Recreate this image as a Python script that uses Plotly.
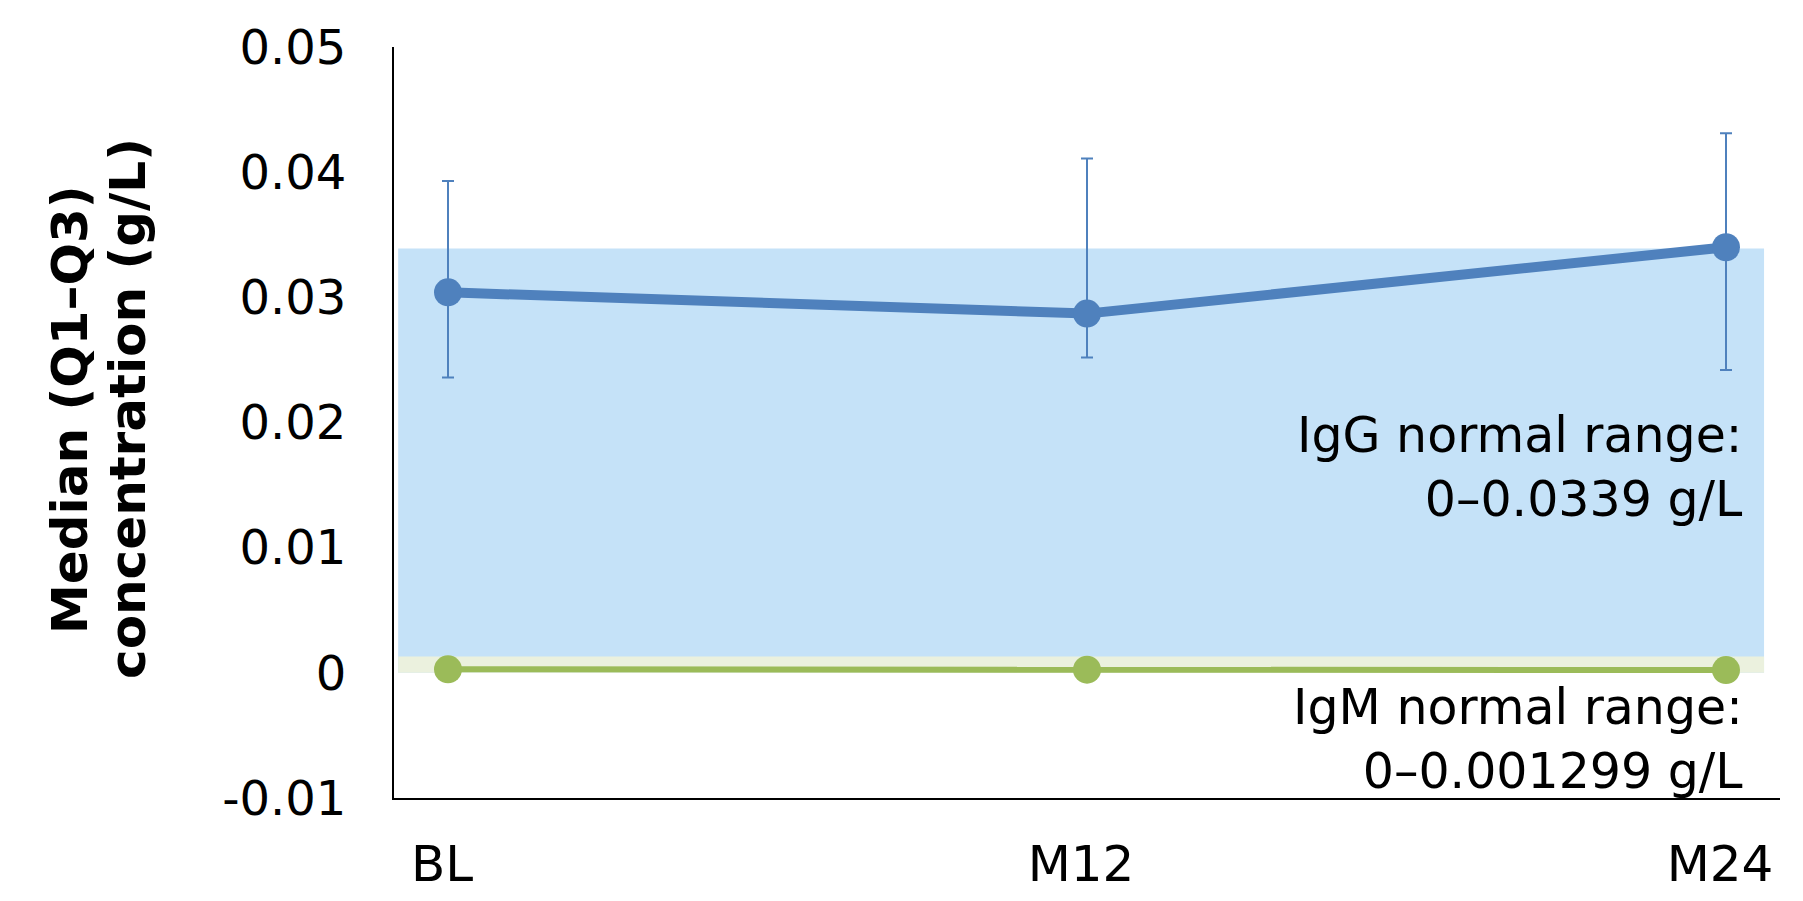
import plotly.graph_objects as go

# Visits on the x axis
visits = ["BL", "M12", "M24"]

# IgG: median with Q1 and Q3 (g/L)
igg_median = [0.0304, 0.0287, 0.0340]
igg_q1 = [0.0236, 0.0252, 0.0242]
igg_q3 = [0.0393, 0.0411, 0.0431]

# IgM: median (g/L)
igm_median = [0.00028, 0.00025, 0.00022]

# Normal reference ranges (g/L)
igg_range = [0.0, 0.0339]
igm_range = [0.0, 0.001299]

# Axis ticks
y_ticks = [-0.01, 0, 0.01, 0.02, 0.03, 0.04, 0.05]
y_tick_text = ["-0.01", "0", "0.01", "0.02", "0.03", "0.04", "0.05"]

# Y-axis title lines
y_title_lines = ["Median (Q1\u2013Q3)", "concentration (g/L)"]

BLUE = "#4F81BD"
BLUE_BAND = "#C5E2F8"
GREEN = "#9BBB59"
GREEN_BAND = "#EBF1DE"
FONT = "DejaVu Sans"

fig = go.Figure()

fig.add_trace(go.Scatter(
    x=visits, y=igg_median, mode="lines+markers", name="IgG",
    line=dict(color=BLUE, width=10),
    marker=dict(color=BLUE, size=28),
    error_y=dict(
        type="data", symmetric=False,
        array=[q3 - m for q3, m in zip(igg_q3, igg_median)],
        arrayminus=[m - q1 for q1, m in zip(igg_q1, igg_median)],
        color=BLUE, thickness=2, width=6,
    ),
))

fig.add_trace(go.Scatter(
    x=visits, y=igm_median, mode="lines+markers", name="IgM",
    line=dict(color=GREEN, width=6),
    marker=dict(color=GREEN, size=28),
))

# Shaded normal ranges behind the data
fig.add_shape(type="rect", xref="paper", yref="y", layer="below",
              x0=0.003, x1=0.9885, y0=igg_range[0], y1=igg_range[1],
              fillcolor=BLUE_BAND, line=dict(width=0))
fig.add_shape(type="rect", xref="paper", yref="y", layer="below",
              x0=0.003, x1=0.9885, y0=igm_range[0], y1=igm_range[1],
              fillcolor=GREEN_BAND, line=dict(width=0))

def fmt(v):
    return f"{v:g}" if v else "0"

fig.add_annotation(
    xref="paper", yref="y", x=0.975, y=0.0164, xanchor="right", yanchor="middle",
    align="right", showarrow=False,
    text=f"IgG normal range:<br>{fmt(igg_range[0])}\u2013{igg_range[1]:.4f} g/L",
    font=dict(family=FONT, size=49, color="black"),
)
fig.add_annotation(
    xref="paper", yref="y", x=0.975, y=-0.0053, xanchor="right", yanchor="middle",
    align="right", showarrow=False,
    text=f"IgM normal range:<br>{fmt(igm_range[0])}\u2013{igm_range[1]:.6f} g/L",
    font=dict(family=FONT, size=49, color="black"),
)

# Y-axis title: two rotated lines placed side by side
for line_text, x_pos in zip(y_title_lines, [-0.2338, -0.1919]):
    fig.add_annotation(
        xref="paper", yref="paper", x=x_pos, y=0.518,
        xanchor="center", yanchor="middle",
        textangle=-90, showarrow=False,
        text=f"<b>{line_text}</b>",
        font=dict(family=FONT, size=50, color="black"),
    )

fig.update_layout(
    width=1803, height=901,
    margin=dict(l=394, r=23, t=47, b=103, autoexpand=False),
    paper_bgcolor="white", plot_bgcolor="white",
    showlegend=False,
    font=dict(family=FONT, color="black"),
)
fig.update_xaxes(
    type="category", range=[-0.0845, 2.0845],
    showline=True, linecolor="black", linewidth=2,
    showgrid=False, zeroline=False, ticks="",
    tickfont=dict(family=FONT, size=50, color="black"),
    ticklabelstandoff=21, ticklabelshift=-6, automargin=False,
)
fig.update_yaxes(
    range=[-0.01, 0.05], tickvals=y_ticks, ticktext=y_tick_text,
    showline=True, linecolor="black", linewidth=2,
    showgrid=False, zeroline=False, ticks="",
    tickfont=dict(family=FONT, size=48, color="black"),
    ticklabelstandoff=36, automargin=False,
)

fig.write_html("out.html")
